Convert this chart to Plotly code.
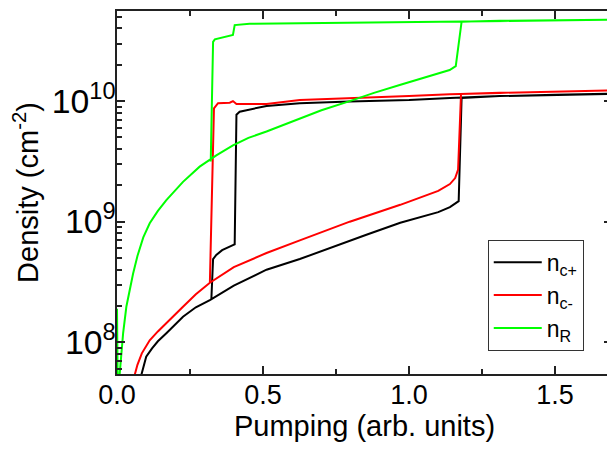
import plotly.graph_objects as go

# ---- data (x: pumping, y: density cm^-2) ----
# n_c+ : up-sweep along lower branch, jump at ~1.18, then down-sweep along upper branch
nc_plus_x = [0.075, 0.084, 0.09, 0.10, 0.12, 0.14, 0.169, 0.20, 0.226, 0.27, 0.318, 0.40, 0.512, 0.626,
             0.74, 0.797, 0.854, 0.97, 1.05, 1.10, 1.14, 1.17, 1.18, 1.31, 1.50, 1.70,
             1.50, 1.31, 1.14, 1.0, 0.797, 0.626, 0.512, 0.44, 0.42, 0.409, 0.403, 0.397, 0.36, 0.34,
             0.329, 0.323]
nc_plus_y = [4.5e7, 5.5e7, 6.3e7, 7.6e7, 8.9e7, 1.02e8, 1.19e8, 1.41e8, 1.63e8, 1.95e8, 2.24e8, 2.95e8,
             4.0e8, 4.9e8, 6.2e8, 6.95e8, 7.8e8, 9.8e8, 1.1e9, 1.2e9, 1.32e9, 1.48e9, 1.06e10, 1.1e10,
             1.13e10, 1.15e10,
             1.13e10, 1.1e10, 1.06e10, 1.02e10, 9.9e9, 9.6e9, 9.12e9, 8.43e9, 8.17e9, 7.7e9, 6.5e8, 6.4e8,
             5.8e8, 5.3e8, 4.9e8, 2.25e8]

# n_c- : same structure
nc_minus_x = [0.052, 0.061, 0.07, 0.085, 0.112, 0.14, 0.17, 0.226, 0.27, 0.318, 0.40, 0.512, 0.626, 0.797,
              0.97, 1.05, 1.10, 1.14, 1.158, 1.168, 1.178, 1.31, 1.50, 1.70,
              1.50, 1.31, 1.14, 1.0, 0.797, 0.626, 0.512, 0.409, 0.397, 0.386, 0.346, 0.332, 0.318]
nc_minus_y = [4.5e7, 5.5e7, 6.5e7, 8.1e7, 1.04e8, 1.23e8, 1.44e8, 1.97e8, 2.5e8, 3.12e8, 4.2e8, 5.5e8,
              7.0e8, 1.0e9, 1.38e9, 1.62e9, 1.8e9, 2.05e9, 2.3e9, 2.7e9, 1.145e10, 1.17e10, 1.2e10, 1.23e10,
              1.2e10, 1.17e10, 1.14e10, 1.1e10, 1.06e10, 1.02e10, 9.46e9, 9.45e9, 1.0e10, 9.7e9, 9.6e9,
              8.7e9, 3.12e8]

# n_R
nR_x = [0.0, 0.003, 0.009, 0.015, 0.021, 0.032, 0.045, 0.055, 0.07, 0.09, 0.112, 0.14, 0.169, 0.20, 0.226,
        0.283, 0.34, 0.397, 0.45, 0.512, 0.626, 0.70, 0.797, 0.88, 0.968, 1.05, 1.10, 1.139, 1.16, 1.18,
        1.31, 1.50, 1.70,
        1.50, 1.31, 0.626, 0.454, 0.403, 0.397, 0.335, 0.329, 0.321]
nR_y = [1.9e8, 3.0e7, 5.4e7, 8.5e7, 1.19e8, 1.97e8, 2.9e8, 3.7e8, 5.2e8, 7.4e8, 9.7e8, 1.23e9, 1.51e9,
        1.83e9, 2.14e9, 2.86e9, 3.55e9, 4.3e9, 4.95e9, 5.6e9, 7.2e9, 8.4e9, 1.0e10, 1.17e10, 1.36e10, 1.55e10,
        1.68e10, 1.81e10, 1.95e10, 4.55e10, 4.64e10, 4.69e10, 4.73e10,
        4.69e10, 4.64e10, 4.47e10, 4.37e10, 4.27e10, 3.53e10, 3.25e10, 3.1e10, 3.16e9]

series_names = ["n<sub>c+</sub>", "n<sub>c-</sub>", "n<sub>R</sub>"]
series_colors = ["#000000", "#ff0000", "#00ff00"]

x_tickvals = [0.0, 0.5, 1.0, 1.5]
x_ticktext = ["0.0", "0.5", "1.0", "1.5"]

FONT = "Liberation Sans, Arial, sans-serif"

fig = go.Figure()
for xs, ys, name, col in zip([nc_plus_x, nc_minus_x, nR_x], [nc_plus_y, nc_minus_y, nR_y],
                             series_names, series_colors):
    fig.add_trace(go.Scatter(x=xs, y=ys, mode="lines", name=name,
                             line=dict(color=col, width=2, shape="linear")))

axis_common = dict(showline=True, linecolor="#222", linewidth=2, mirror="ticks",
                   ticks="inside", ticklen=8, tickwidth=1.5, tickcolor="#222",
                   showgrid=False, zeroline=False,
                   tickfont=dict(family=FONT, size=27, color="#000"))

fig.update_xaxes(range=[0, 1.695], tickvals=x_tickvals, ticktext=x_ticktext,
                 minor=dict(ticks="inside", ticklen=5, tickwidth=1.5, tickcolor="#222", dtick=0.25),
                 ticklabelstandoff=-4,
                 title=dict(text="Pumping (arb. units)", font=dict(family=FONT, size=29, color="#000"),
                            standoff=0),
                 **axis_common)
fig.update_yaxes(type="log", range=[7.737, 10.747], dtick=1, exponentformat="power",
                 minor=dict(ticks="inside", ticklen=5, tickwidth=1.5, tickcolor="#222", dtick="D1"),
                 ticklabelstandoff=-6,
                 title=dict(text="Density (cm<sup>-2</sup>)", font=dict(family=FONT, size=29, color="#000"),
                            standoff=8),
                 **axis_common)

# the page body adds an 8 px offset; margins compensate for it
fig.update_layout(
    width=615, height=452,
    margin=dict(l=109, r=11, t=3, b=86, autoexpand=False),
    paper_bgcolor="white", plot_bgcolor="white",
    showlegend=True,
    legend=dict(x=0.749, y=0.37, xanchor="left", yanchor="top",
                bordercolor="#333", borderwidth=1, bgcolor="white",
                font=dict(family=FONT, size=23, color="#000"),
                tracegroupgap=0, itemwidth=48),
)

fig.write_html("out.html")
